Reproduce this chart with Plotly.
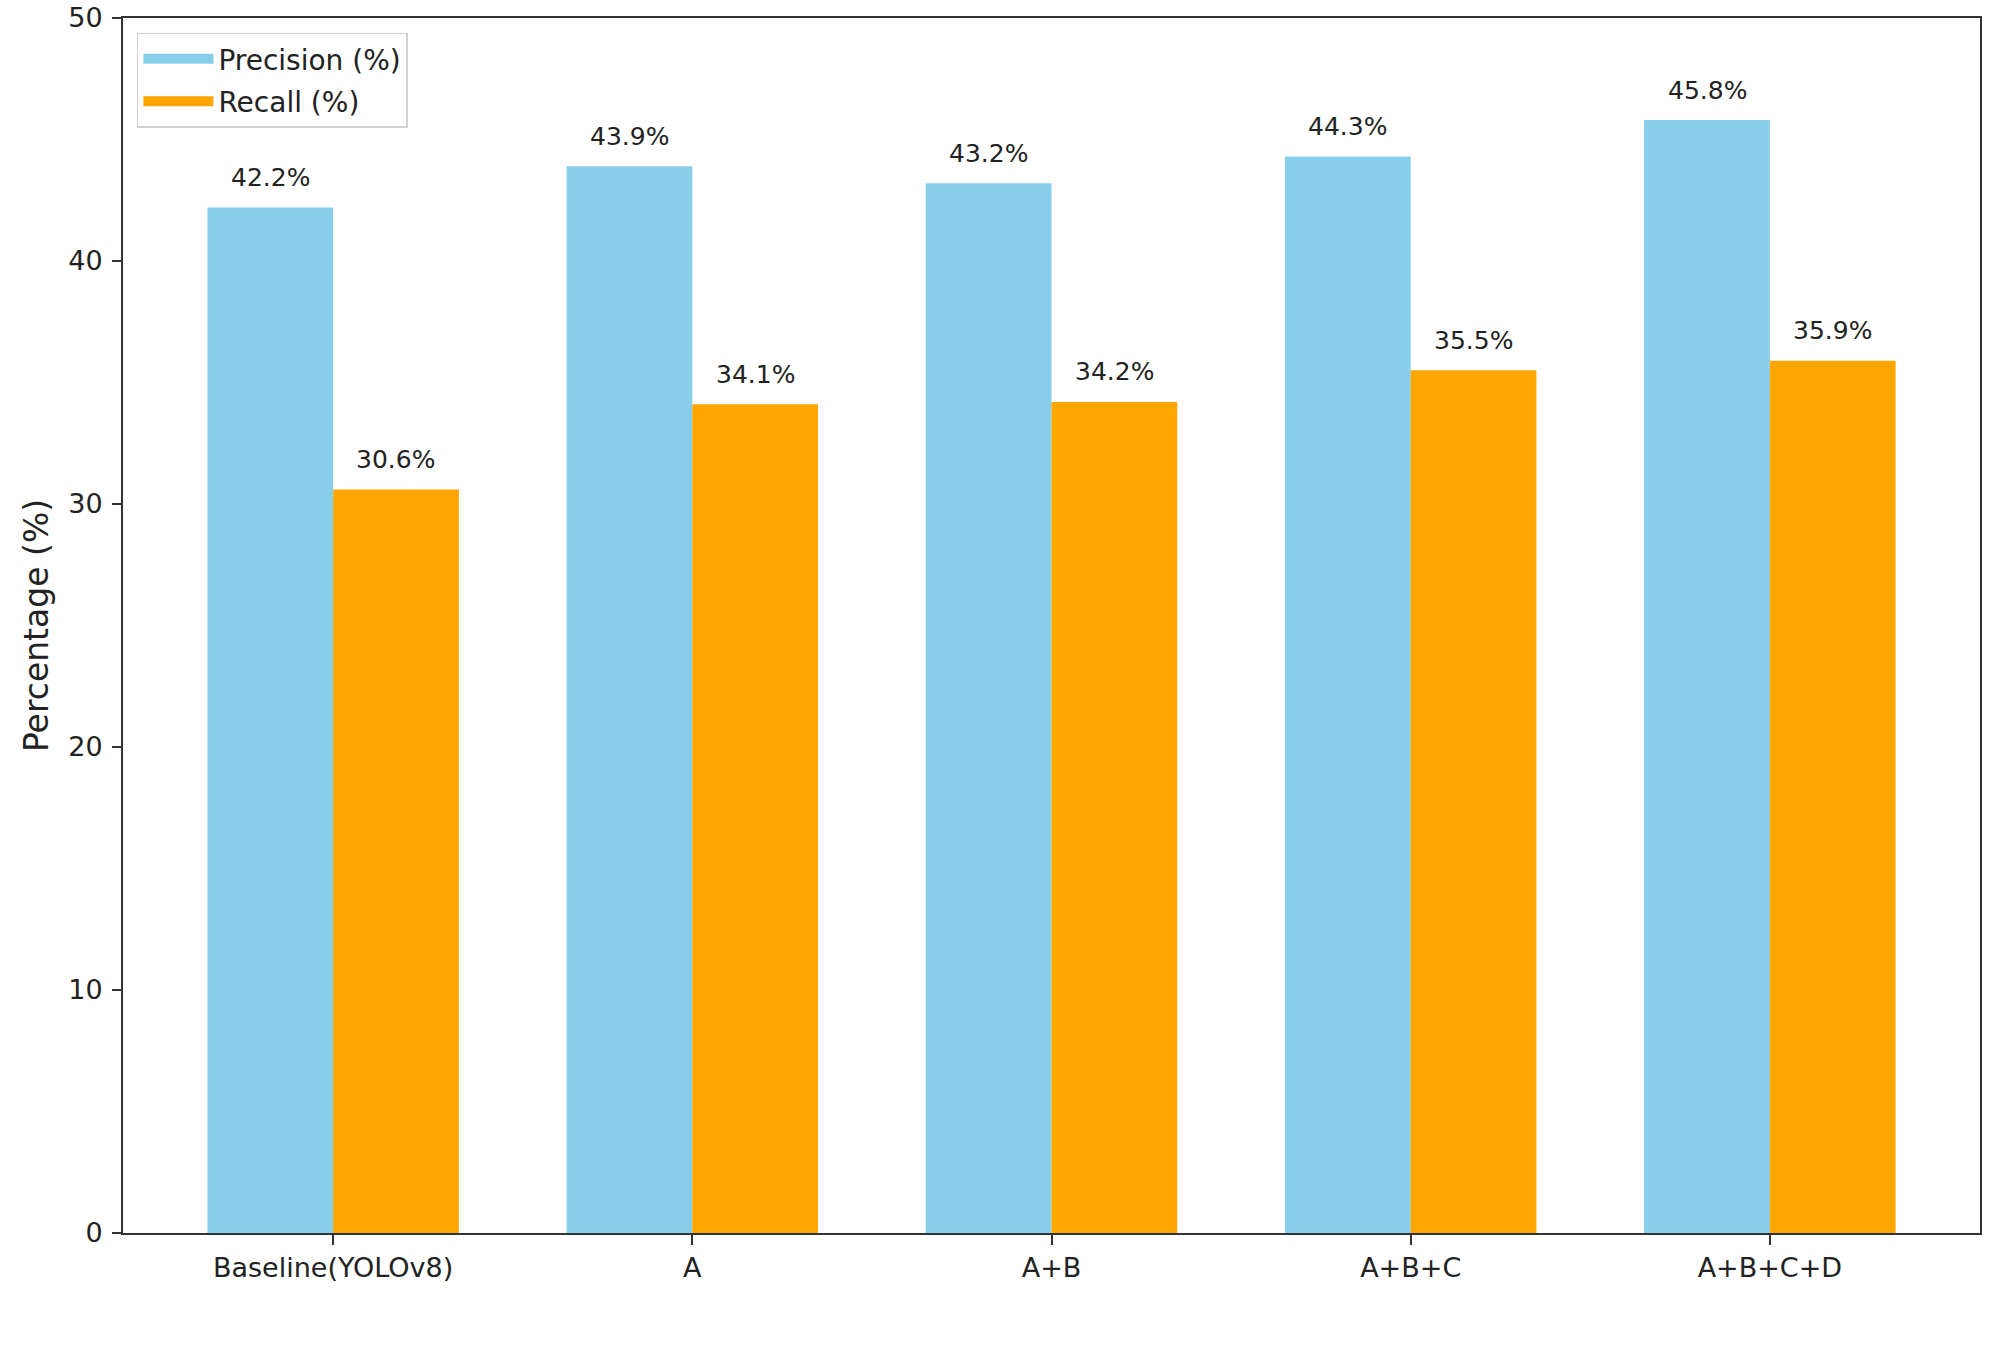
import plotly.graph_objects as go

categories = ["Baseline(YOLOv8)", "A", "A+B", "A+B+C", "A+B+C+D"]
precision = [42.2, 43.9, 43.2, 44.3, 45.8]
recall = [30.6, 34.1, 34.2, 35.5, 35.9]
y_ticks = [0, 10, 20, 30, 40, 50]

FONT = "DejaVu Sans"
TXT = "#222222"
AX = "#333333"
C_P = "#87CEEB"
C_R = "#FFA500"

fig = go.Figure()
fig.add_trace(go.Bar(x=categories, y=precision, name="Precision (%)",
                     marker=dict(color=C_P, line=dict(width=0)),
                     offsetgroup="p", showlegend=False))
fig.add_trace(go.Bar(x=categories, y=recall, name="Recall (%)",
                     marker=dict(color=C_R, line=dict(width=0)),
                     offsetgroup="r", showlegend=False))
# legend entries (rectangular swatches)
fig.add_trace(go.Scatter(x=[None], y=[None], mode="lines", name="Precision (%)",
                         line=dict(color=C_P, width=19), legendgroup="p"))
fig.add_trace(go.Scatter(x=[None], y=[None], mode="lines", name="Recall (%)",
                         line=dict(color=C_R, width=19), legendgroup="r"))

n = len(categories)
for i, c in enumerate(categories):
    for val, off in ((precision[i], -0.175), (recall[i], 0.175)):
        fig.add_annotation(x=i + off, y=val, text=f"{val}%", showarrow=False,
                           xref="x", yref="y", yanchor="middle", yshift=30,
                           font=dict(family=FONT, size=25, color=TXT))

fig.update_layout(
    width=2008, height=1352,
    margin=dict(l=123, r=28, t=18, b=119, autoexpand=False),
    paper_bgcolor="white", plot_bgcolor="white",
    barmode="group", bargap=0.3, bargroupgap=0,
    font=dict(family=FONT, size=27, color=TXT),
    showlegend=True,
    legend=dict(x=0.0075, y=0.988, xanchor="left", yanchor="top",
                bgcolor="rgba(255,255,255,0.9)", bordercolor="#d0d0d0",
                borderwidth=1.5, font=dict(family=FONT, size=28, color=TXT),
                tracegroupgap=3, itemwidth=70),
)
fig.update_xaxes(
    type="category", range=[-0.585, n - 1 + 0.585],
    showline=True, linecolor=AX, linewidth=2, mirror=True,
    ticks="outside", ticklen=10, tickwidth=2, tickcolor=AX,
    showgrid=False, zeroline=False, automargin=False,
    tickfont=dict(family=FONT, size=27, color=TXT),
)
fig.update_yaxes(
    range=[0, 50], tickvals=y_ticks,
    showline=True, linecolor=AX, linewidth=2, mirror=True,
    ticks="outside", ticklen=9, tickwidth=2, tickcolor=AX,
    ticklabelstandoff=4, ticklabeloverflow="allow",
    showgrid=False, zeroline=False, automargin=False,
    tickfont=dict(family=FONT, size=27, color=TXT),
    title=dict(text="Percentage (%)", font=dict(family=FONT, size=33, color=TXT),
               standoff=10),
)

fig.write_html("out.html", config={"displayModeBar": False},
               post_script="document.body.style.margin='0';document.body.style.overflow='hidden';")
